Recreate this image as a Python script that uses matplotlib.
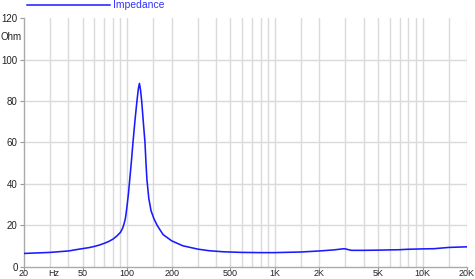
import matplotlib
matplotlib.use('Agg')
import matplotlib.pyplot as plt

plt.rcParams['font.family'] = ['Liberation Sans', 'DejaVu Sans']

# impedance curve (Hz, Ohm)
freq = [20, 30, 40, 47.5, 55, 60, 65, 70, 75, 80, 85, 90, 93, 95, 97, 98, 100, 102, 104, 106.5,
        109.4, 113, 116.4, 119, 121, 123, 125.3, 128.5, 131.9, 134, 136, 140, 145, 152, 160,
        175, 200, 238, 300, 360, 450, 600, 800, 1000, 1500, 2000, 2500, 2950, 3300, 4000,
        5000, 7000, 7800, 10000, 12000, 15000, 20000]
ohm = [6.4, 6.9, 7.6, 8.5, 9.2, 9.8, 10.5, 11.3, 12.2, 13.3, 14.8, 16.6, 18.5, 20.5, 23, 25, 30, 35.5, 42, 50,
       60, 71, 80, 86, 88.5, 85.5, 80, 70, 60, 50, 42, 33, 27, 23, 19.8,
       15.5, 12.5, 10.1, 8.5, 7.7, 7.2, 6.9, 6.8, 6.8, 7.1, 7.6, 8.1, 8.7, 7.9, 7.9,
       8.0, 8.2, 8.4, 8.6, 8.7, 9.3, 9.6]

xticks = [20, 50, 100, 200, 500, 1000, 2000, 5000, 10000, 20000]
xlabels = ['20', '50', '100', '200', '500', '1K', '2K', '5K', '10K', '20K']
xgrid = [30, 40, 60, 70, 80, 90, 150, 300, 400, 600, 700, 800, 900, 1500,
         3000, 4000, 6000, 7000, 8000, 9000, 15000]
yticks = [0, 20, 40, 60, 80, 100, 120]

fig = plt.figure(figsize=(4.75, 2.79), dpi=100)
ax = fig.add_axes([24 / 475, 12.3 / 279, 443 / 475, 248.5 / 279])

grid_c = '#dadada'
for f in xticks[1:] + xgrid:
    ax.axvline(f, color=grid_c, lw=1, zorder=0)
for v in yticks[1:-1]:
    ax.axhline(v, color=grid_c, lw=1, zorder=0)

ax.plot(freq, ohm, color='#1a1aff', lw=1.15, zorder=3)

ax.set_xscale('log')
ax.set_xlim(20, 20000)
ax.set_ylim(0, 120)
ax.set_xticks(xticks)
ax.set_xticklabels(xlabels)
ax.set_xticks([], minor=True)
ax.set_yticks(yticks)
ax.set_yticklabels([str(v) for v in yticks])
ax.tick_params(labelsize=7, color='#999999', labelcolor='#222222', length=3, width=0.8, pad=1.5)
ax.tick_params(axis='x', labelsize=6.5, length=2, pad=0)
for s in ['top', 'right']:
    ax.spines[s].set_visible(False)
for s in ['left', 'bottom']:
    ax.spines[s].set_color('#aaaaaa')
    ax.spines[s].set_linewidth(1)

ax.text(-24 / 443, 0.926, 'Ohm', transform=ax.transAxes, fontsize=7, color='#222222',
        ha='left', va='center')
ax.text(0.067, -0.009, 'Hz', transform=ax.transAxes, fontsize=6.5, color='#222222',
        ha='center', va='top')

# legend drawn in figure coordinates
fig.lines.append(plt.Line2D([27 / 475, 110 / 475], [1 - 5 / 279, 1 - 5 / 279],
                            color='#1a1aff', lw=1.1, transform=fig.transFigure))
fig.text(113 / 475, 1 - 5 / 279, 'Impedance', fontsize=7.5, color='#3333ff',
         ha='left', va='center')

fig.savefig('out.png', dpi=100)
